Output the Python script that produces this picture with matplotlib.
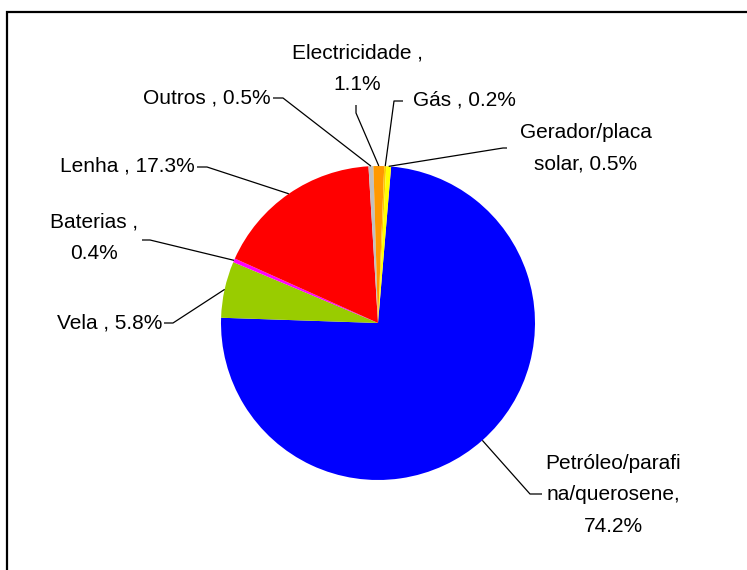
import numpy as np
import matplotlib
matplotlib.use("Agg")
import matplotlib.pyplot as plt
from matplotlib.patches import Rectangle

# --- DATA (clockwise from just right of 12 o'clock) ---
categories = ["Petróleo/parafina/querosene", "Vela", "Baterias", "Lenha",
              "Outros", "Electricidade", "Gás", "Gerador/placa solar"]
shares = [74.2, 5.8, 0.4, 17.3, 0.5, 1.1, 0.2, 0.5]
label_texts = ["Petróleo/parafi\nna/querosene,\n74.2%", "Vela , 5.8%",
               "Baterias ,\n0.4%", "Lenha , 17.3%", "Outros , 0.5%",
               "Electricidade ,\n1.1%", "Gás , 0.2%", "Gerador/placa\nsolar, 0.5%"]
colors = ["#0000FF", "#99CC00", "#FF00FF", "#FF0000",
          "#C0C0C0", "#FF9900", "#FFCC00", "#FFFF00"]

# --- LAYOUT (pixel coords, y measured from top) ---
W, H = 747, 570
CX, CY, R = 378, 323, 157
# text anchor, alignment, elbow point of the leader line, leader start
label_layout = [
    ((613, 495), "center", (530, 494), (542, 494)),
    ((162, 323), "right", (173, 323), (164, 323)),
    ((94, 238), "center", (150, 240), (142, 240)),
    ((195, 166), "right", (207, 167), (197, 167)),
    ((271, 98), "right", (283, 98), (273, 98)),
    ((357, 69), "center", (356, 113), (356, 105)),
    ((413, 100), "left", (394, 101), (403, 101)),
    ((586, 148), "center", (503, 148), (507, 148)),
]

plt.rcParams['font.family'] = ['Liberation Sans', 'DejaVu Sans']

fig = plt.figure(figsize=(W / 100, H / 100), dpi=100)
ax = fig.add_axes([0, 0, 1, 1])

start = 90 - 4.8
wedges, _ = ax.pie(shares, colors=colors, startangle=start, counterclock=False,
                   center=(CX, H - CY), radius=R, frame=True,
                   wedgeprops=dict(linewidth=0))
ax.set_xlim(0, W)
ax.set_ylim(0, H)
ax.set_aspect('equal')
ax.axis('off')

for w, txt, (pos, ha, elbow, lstart) in zip(wedges, label_texts, label_layout):
    mid = np.deg2rad((w.theta1 + w.theta2) / 2)
    px = CX + R * np.cos(mid)
    py = (H - CY) + R * np.sin(mid)
    ax.plot([lstart[0], elbow[0], px], [H - lstart[1], H - elbow[1], py],
            color="black", lw=0.9, solid_capstyle='butt')
    ax.text(pos[0], H - pos[1], txt, ha=ha, va='center', multialignment='center',
            fontsize=15, linespacing=1.85, color="black")

# chart-area border (open to the right and bottom)
ax.add_patch(Rectangle((7, -20), W + 20, H - 12 + 20, fill=False,
                       edgecolor="black", lw=1.6, clip_on=False))

fig.savefig("out.png", dpi=100, facecolor="white")
